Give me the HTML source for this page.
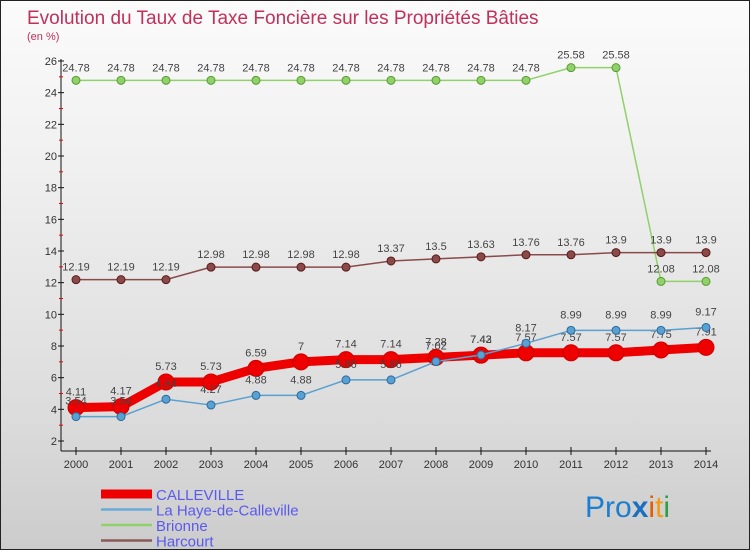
<!DOCTYPE html>
<html><head><meta charset="utf-8"><style>
body{margin:0}
#c{width:750px;height:550px;position:relative;overflow:hidden;background:linear-gradient(#fbfbfb,#f0f0f0 30%,#dcdcdc 75%,#cccccc);font-family:"Liberation Sans",sans-serif;box-sizing:border-box;border:1px solid #222}
</style></head><body>
<div id="c">
<svg id="s" width="750" height="550">
<text x="26" y="23" font-size="19" fill="#c0305a">Evolution du Taux de Taxe Foncière sur les Propriétés Bâties</text>
<text x="26" y="39" font-size="11" fill="#c0305a">(en %)</text>
<g id="g"></g>
<text x="584" y="516" font-size="30"><tspan fill="#1a7fd0">Pro</tspan><tspan fill="#1a6fc0" font-weight="bold">x</tspan><tspan fill="#e65c00">i</tspan><tspan fill="#f39c12">t</tspan><tspan fill="#2ea043">i</tspan></text>
</svg></div>
<script>
const years=[2000,2001,2002,2003,2004,2005,2006,2007,2008,2009,2010,2011,2012,2013,2014];
const yTicks=[2,4,6,8,10,12,14,16,18,20,22,24,26];
const calleville=[4.11,4.17,5.73,5.73,6.59,7,7.14,7.14,7.28,7.42,7.57,7.57,7.57,7.75,7.91];
const laHaye=[3.54,3.54,4.64,4.27,4.88,4.88,5.86,5.86,7.02,7.43,8.17,8.99,8.99,8.99,9.17];
const brionne=[24.78,24.78,24.78,24.78,24.78,24.78,24.78,24.78,24.78,24.78,24.78,25.58,25.58,12.08,12.08];
const harcourt=[12.19,12.19,12.19,12.98,12.98,12.98,12.98,13.37,13.5,13.63,13.76,13.76,13.9,13.9,13.9];
const NS="http://www.w3.org/2000/svg",g=document.getElementById('g');
const X=i=>75+i*45, Y=v=>440-(v-2)*(380/24);
function el(t,a,p){const e=document.createElementNS(NS,t);for(const k in a)e.setAttribute(k,a[k]);(p||g).appendChild(e);return e;}
let e=el('line',{x1:60,y1:58,x2:60,y2:450,stroke:'#111'});


e=el('line',{x1:60,y1:450,x2:710,y2:450,stroke:'#111'});


yTicks.forEach(v=>{
 el('line',{x1:57,x2:63,y1:Y(v),y2:Y(v),stroke:'#111'});
 if(v<26) el('line',{x1:58,x2:62,y1:Y(v+1),y2:Y(v+1),stroke:'#e00'});
 const t=el('text',{x:56,y:Y(v)+4,'font-size':11,fill:'#333','text-anchor':'end'});t.textContent=v;
 
 
});
years.forEach((yr,i)=>{
 el('line',{x1:X(i),x2:X(i),y1:446,y2:454,stroke:'#111'});
 const t=el('text',{x:X(i),y:467,'font-size':11,fill:'#333','text-anchor':'middle'});t.textContent=yr;
 
 
});
function series(data,color,w,r,stroke,name,dy){
 const pts=data.map((v,i)=>X(i)+','+Y(v)).join(' ');
 const p=el('polyline',{points:pts,fill:'none',stroke:color,'stroke-width':w,'stroke-linejoin':'round'});
 
 
 data.forEach((v,i)=>{
  const c=el('circle',{cx:X(i),cy:Y(v),r:r,fill:color,stroke:stroke,'stroke-width':1});
  
  
  const t=el('text',{x:X(i),y:Y(v)+dy,'font-size':11,fill:'#444','text-anchor':'middle'});t.textContent=v;
  
  
 });
}
series(brionne,'#8fd16a',1.5,4,'#5a9a30','brionne',-9);
series(harcourt,'#8a4a4a',1.5,4,'#5a1a1a','harcourt',-9);
series(calleville,'#ee0000',9,8,'#c00','calleville',-12);
series(laHaye,'#5aa0d0',1.5,4,'#2a6aa0','la-haye',-12);
const leg=[['CALLEVILLE','#ee0000',9],['La Haye-de-Calleville','#6aaad8',2.5],['Brionne','#8fd16a',2.5],['Harcourt','#8a5a5a',2.5]];
leg.forEach((l,i)=>{
 const y=493+i*15.5;
 const ln=el('line',{x1:100,x2:151,y1:y,y2:y,stroke:l[1],'stroke-width':l[2]});
 
 
 const t=el('text',{x:155,y:y+6,'font-size':15,fill:'#5a5aee'});t.textContent=l[0];
 
 
});
</script></body></html>
